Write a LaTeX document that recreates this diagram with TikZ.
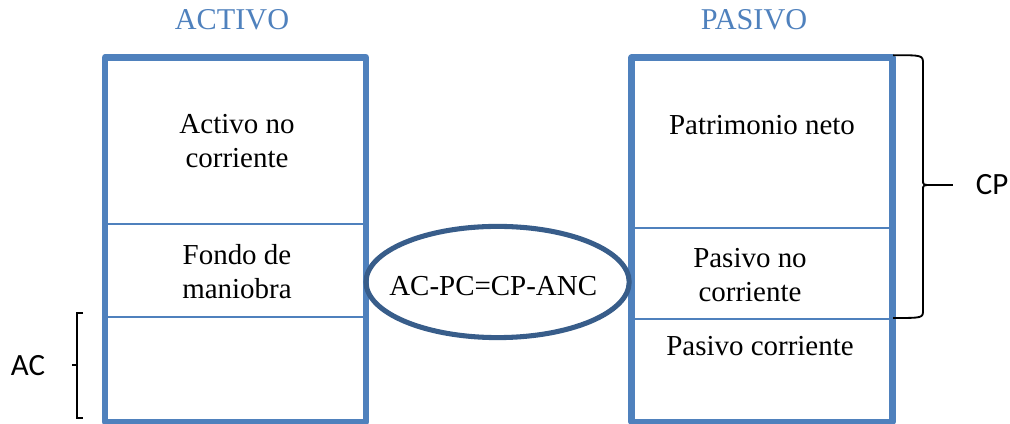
\documentclass[tikz,border=0pt]{standalone}
\usepackage{fontspec}
\setmainfont{Liberation Serif}
\newfontfamily\calibri{Carlito}
\usetikzlibrary{shapes.geometric}
\definecolor{cajaazul}{HTML}{4F81BD}
\definecolor{ovaloazul}{HTML}{385D8A}
\tikzset{
  txt/.style={align=center,font=\fontsize{20.6}{24.2}\selectfont},
  titulo/.style={text=cajaazul,font=\fontsize{21.5}{24}\selectfont},
  sigla/.style={font=\calibri\fontsize{22}{24}\selectfont},
  caja/.style={cajaazul,line width=4.6pt,line join=round},
  division/.style={cajaazul,line width=1.4pt},
  ovalo/.style={ellipse,draw=ovaloazul,line width=3.6pt,inner sep=0pt,
                minimum width=6.58cm,minimum height=2.78cm},
  llave/.style={black,line width=1.3pt}
}
\begin{document}
\begin{tikzpicture}
\useasboundingbox (0,0) rectangle (25.25,10.6);
% activo
\draw[caja] (2.625,0.05) rectangle (9.15,9.1625);
\draw[division] (2.625,5.0) -- (9.15,5.0);
\draw[division] (2.625,2.675) -- (9.15,2.675);
% pasivo
\draw[caja] (15.79,0.05) rectangle (22.31,9.1625);
\draw[division] (15.79,4.9) -- (22.31,4.9);
\draw[division] (15.79,2.625) -- (22.31,2.625);

\node[titulo] (activo) at (5.8,10.1) {ACTIVO};
\node[titulo] (pasivo) at (18.85,10.1) {PASIVO};

\node[txt] (anc) at (5.925,7.075) {Activo no\\corriente};
\node[txt] (fm)  at (5.925,3.8)   {Fondo de\\maniobra};
\node[txt] (pn)  at (19.05,7.475) {Patrimonio neto};
\node[txt] (pnc) at (18.75,3.725) {Pasivo no\\corriente};
\node[txt] (pc)  at (19.0,1.95)   {Pasivo corriente};

\node[ovalo] (ecuacion) at (12.44,3.55) {};
\node[txt] (formula) at (12.33,3.45) {AC-PC=CP-ANC};

% llaves
\draw[llave] (2.075,2.775) -- (1.925,2.775) -- (1.925,0.15) -- (2.075,0.15);
\draw[llave] (1.925,1.475) -- (1.8,1.475);
\node[sigla] (ac) at (0.7,1.45) {AC};

\draw[llave] (22.33,9.22) .. controls (23.075,9.22) .. (23.075,9.0) -- (23.075,6.1)
  .. controls (23.075,5.975) .. (23.3,5.975) .. controls (23.075,5.975) .. (23.075,5.85)
  -- (23.075,2.85) .. controls (23.075,2.65) .. (22.33,2.65);
\draw[llave] (23.3,5.975) -- (23.825,5.975);
\node[sigla] (cp) at (24.8,5.975) {CP};
\end{tikzpicture}
\end{document}
